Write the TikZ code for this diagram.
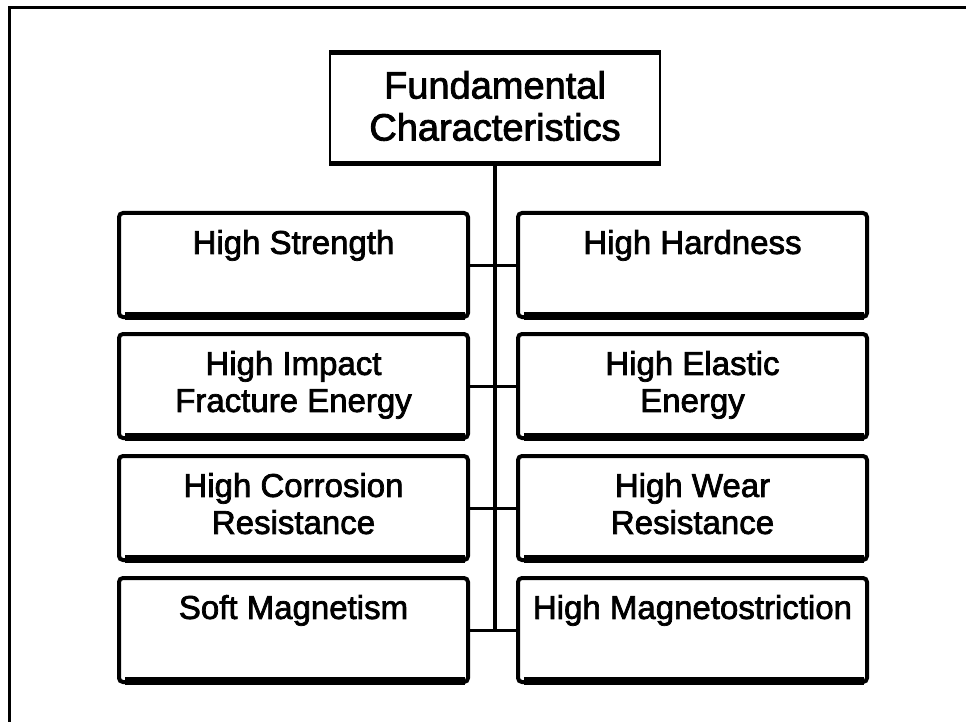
\documentclass[tikz,border=0pt]{standalone}
\usepackage{fontspec}
\newfontfamily\boxfont{Liberation Sans}[FakeBold=2.2]
\newcommand\celltext[1]{\parbox[c][104pt][t]{345pt}{\centering\vspace{17pt}#1}}
\newcommand\toptext[1]{\parbox[c][110pt][t]{325pt}{\centering\vspace{18pt}#1}}
\tikzset{
  cell/.style={draw, rounded corners=4pt, line width=4pt, inner sep=0pt,
    minimum width=349pt, minimum height=104pt,
    font=\boxfont\fontsize{33}{37}\selectfont},
  topcell/.style={draw, line width=1.5pt, inner sep=0pt,
    minimum width=330pt, minimum height=110pt,
    font=\boxfont\fontsize{38}{42}\selectfont},
  link/.style={line width=3pt}
}
\begin{document}
\begin{tikzpicture}[x=1pt,y=-1pt]
\useasboundingbox (0,0) rectangle (966,722);
\draw[line width=3pt] (9,722) -- (9,8) -- (966,8);

\node[topcell] (fc) at (495,108) {\toptext{Fundamental\\Characteristics}};
\draw[line width=5pt] (fc.north west) -- (fc.north east);
\draw[line width=5pt] (fc.south west) -- (fc.south east);

\node[cell] (hs) at (293.5,265) {\celltext{High Strength}};
\node[cell] (hh) at (692.5,265) {\celltext{High Hardness}};
\node[cell] (hi) at (293.5,386) {\celltext{High Impact\\Fracture Energy}};
\node[cell] (he) at (692.5,386) {\celltext{High Elastic\\Energy}};
\node[cell] (hc) at (293.5,508) {\celltext{High Corrosion\\Resistance}};
\node[cell] (hw) at (692.5,508) {\celltext{High Wear\\Resistance}};
\node[cell] (sm) at (293.5,630) {\celltext{Soft Magnetism}};
\node[cell] (hm) at (692.5,630) {\celltext{High Magnetostriction}};

\foreach \n in {hs,hh,hi,he,hc,hw,sm,hm}
  \draw[line width=8pt] ([xshift=8pt,yshift=3pt]\n.south west) -- ([xshift=-5pt,yshift=3pt]\n.south east);

\coordinate (end) at (fc.south |- sm.east);
\draw[line width=4pt] (fc.south) -- (end);
\foreach \a/\b in {hs/hh,hi/he,hc/hw,sm/hm}
  \draw[link] (\a.east) -- (\b.west);
\end{tikzpicture}
\end{document}
